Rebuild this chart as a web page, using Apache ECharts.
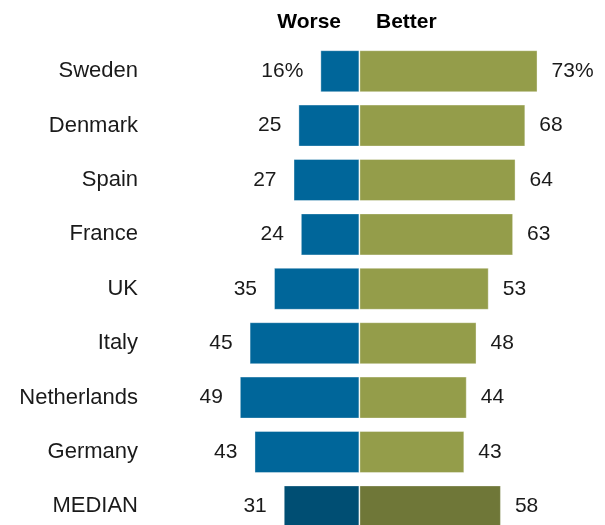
<!DOCTYPE html>
<html>
<head>
<meta charset="utf-8">
<script src="https://cdn.jsdelivr.net/npm/echarts@6/dist/echarts.min.js"></script>
<style>
html,body{margin:0;padding:0;background:#fff;}
#c{width:605px;height:525px;}
</style>
</head>
<body>
<div id="c"></div>
<script>
var categories = ['Sweden','Denmark','Spain','France','UK','Italy','Netherlands','Germany','MEDIAN'];
var worse = [16,25,27,24,35,45,49,43,31];
var better = [73,68,64,63,53,48,44,43,58];
var headers = ['Worse','Better'];

var FONT = '"Liberation Sans", Arial, sans-serif';
var worseColor = '#00669a', betterColor = '#949d4a';
var worseMed = '#004e73', betterMed = '#6f7738';
var last = categories.length - 1;

var worseData = worse.map(function(v,i){
  return {value:-v, itemStyle:{color: i===last?worseMed:worseColor}};
});
var betterData = better.map(function(v,i){
  return {value:v, itemStyle:{color: i===last?betterMed:betterColor}};
});

var chart = echarts.init(document.getElementById('c'));
chart.setOption({
  animation:false,
  grid:{left:213, top:44, height:489.6, width:341.6, containLabel:false, outerBoundsMode:'none'},
  xAxis:{type:'value', min:-60, max:80, show:false},
  yAxis:{type:'category', data:categories, inverse:true, position:'left',
    axisLine:{show:false, onZero:false}, axisTick:{show:false}, splitLine:{show:false},
    axisLabel:{margin:75, fontSize:22, color:'#1a1a1a', fontFamily:FONT}},
  graphic:[
    {type:'text', x:341, y:22, style:{text:headers[0], align:'right', verticalAlign:'middle', font:'bold 21px '+FONT, fill:'#000'}},
    {type:'text', x:376, y:22, style:{text:headers[1], align:'left', verticalAlign:'middle', font:'bold 21px '+FONT, fill:'#000'}}
  ],
  series:[
    {type:'bar', data:worseData, barWidth:42, barGap:'-100%',
      itemStyle:{borderColor:'rgba(255,255,255,0.35)', borderWidth:1},
      label:{show:true, position:'left', distance:17, fontSize:21, color:'#1a1a1a', fontFamily:FONT,
        formatter:function(p){return Math.abs(p.value)+(p.dataIndex===0?'%':'');}}},
    {type:'bar', data:betterData, barWidth:42, barGap:'-100%',
      itemStyle:{borderColor:'rgba(255,255,255,0.35)', borderWidth:1},
      label:{show:true, position:'right', distance:14, fontSize:21, color:'#1a1a1a', fontFamily:FONT,
        formatter:function(p){return p.value+(p.dataIndex===0?'%':'');}}}
  ]
});
</script>
</body>
</html>
